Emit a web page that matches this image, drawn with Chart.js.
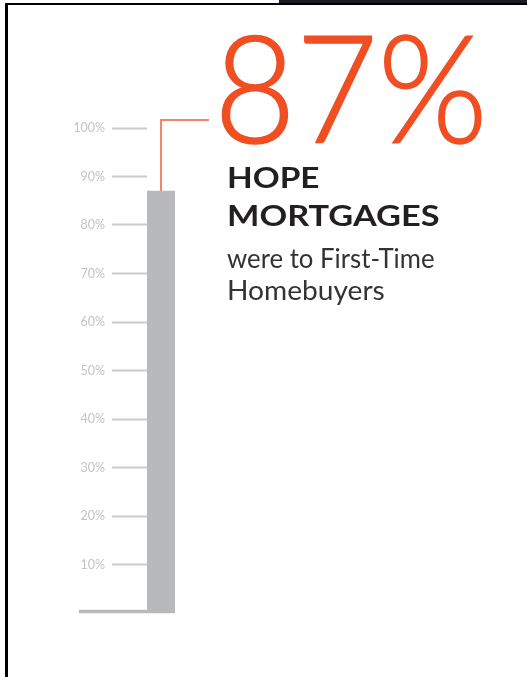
<!DOCTYPE html>
<html><head><meta charset="utf-8">
<script src="https://cdn.jsdelivr.net/npm/chart.js@4.4.1/dist/chart.umd.min.js"></script>
<style>
html,body{margin:0;padding:0;background:#fff;width:527px;height:677px;overflow:hidden;}
#wrap{position:relative;width:527px;height:677px;}
#c{position:absolute;left:0;top:0;}
.t{position:absolute;left:0;top:0;white-space:nowrap;transform-origin:0 0;line-height:1;margin:0;}
.frame{position:absolute;}
</style></head><body>
<div id="wrap">
<canvas id="c" width="527" height="677"></canvas>
<div class="frame" style="left:279px;top:0;width:248px;height:3px;background:#1c1a22"></div>
<div class="frame" style="left:5px;top:3px;width:522px;height:2px;background:#000"></div>
<div class="frame" style="left:5px;top:3px;width:2.5px;height:674px;background:#000"></div>
<div id="big" class="t" style="font-family:Lato;font-weight:300;font-size:150px;color:#f04e23;-webkit-text-stroke:1.6px #f04e23">87%</div>
<div id="l1" class="t" style="font-family:Lato;font-weight:700;font-size:29px;color:#231f20">HOPE</div>
<div id="l2" class="t" style="font-family:Lato;font-weight:700;font-size:29px;color:#231f20">MORTGAGES</div>
<div id="l3" class="t" style="font-family:Lato;font-weight:400;font-size:26px;color:#333336">were to First-Time</div>
<div id="l4" class="t" style="font-family:Lato;font-weight:400;font-size:26px;color:#333336">Homebuyers</div>
</div>
<script>
// ---- data ----
const categories = ['First-Time Homebuyers'];
const shareValues = [87];
const tickValues = [0, 10, 20, 30, 40, 50, 60, 70, 80, 90, 100];
const tickLabels = ['', '10%', '20%', '30%', '40%', '50%', '60%', '70%', '80%', '90%', '100%'];

const connectorPlugin = {
  id: 'connector',
  afterDatasetsDraw(chart) {
    const ctx = chart.ctx;
    const y = chart.scales.y;
    const bar = chart.getDatasetMeta(0).data[0];
    const y0 = y.getPixelForValue(0);
    ctx.save();
    // baseline
    ctx.strokeStyle = '#b8b9bb';
    ctx.lineWidth = 3.5;
    ctx.beginPath();
    ctx.moveTo(79, y0 - 1.6);
    ctx.lineTo(bar.x + bar.width / 2, y0 - 1.6);
    ctx.stroke();
    // connector
    const yl = y.getPixelForValue(100) - 8;
    ctx.strokeStyle = '#f5846f';
    ctx.lineWidth = 2;
    ctx.beginPath();
    ctx.moveTo(bar.x, bar.y);
    ctx.lineTo(bar.x, yl);
    ctx.lineTo(209, yl);
    ctx.stroke();
    ctx.restore();
  }
};

new Chart(document.getElementById('c'), {
  type: 'bar',
  data: {
    labels: categories,
    datasets: [{
      data: shareValues,
      backgroundColor: '#b8b9bb',
      borderWidth: 0,
      barPercentage: 1,
      categoryPercentage: 1
    }]
  },
  options: {
    responsive: false,
    animation: false,
    devicePixelRatio: 1,
    layout: { padding: { left: 0, right: 352, top: 128, bottom: 64 } },
    plugins: { legend: { display: false }, tooltip: { enabled: false } },
    scales: {
      x: { display: false },
      y: {
        min: 0, max: 100,
        afterBuildTicks(scale) { scale.ticks = tickValues.map(v => ({ value: v })); },
        afterFit(scale) { scale.width = 147; },
        border: { display: false },
        grid: {
          drawOnChartArea: false, drawTicks: true, tickLength: 35, tickWidth: 2,
          tickColor: (c) => (c.tick && c.tick.value === 0) ? 'rgba(0,0,0,0)' : '#cbcbcb'
        },
        ticks: {
          padding: 7,
          color: '#c4c4c4',
          font: { family: 'Lato', size: 12.5 },
          callback: (v) => tickLabels[tickValues.indexOf(v)]
        }
      }
    }
  },
  plugins: [connectorPlugin]
});

function place(id, x, baseline, targetW) {
  const el = document.getElementById(id);
  el.style.transform = 'none';
  let m = el.querySelector('.m');
  if (!m) {
    m = document.createElement('span');
    m.className = 'm';
    m.style.cssText = 'display:inline-block;width:0;height:0;vertical-align:baseline';
    el.appendChild(m);
  }
  const base = m.offsetTop;
  const w = el.offsetWidth;
  el.style.left = x + 'px';
  el.style.top = (baseline - base) + 'px';
  el.style.transform = 'scaleX(' + (targetW / w) + ')';
}
function layoutText() {
  place('big', 214, 143, 274);
  place('l1', 227, 188, 92);
  place('l2', 227, 226, 213);
  place('l3', 227, 268, 208);
  place('l4', 227, 300, 158);
}
layoutText();
if (document.fonts && document.fonts.ready) document.fonts.ready.then(layoutText);
</script>
</body></html>
